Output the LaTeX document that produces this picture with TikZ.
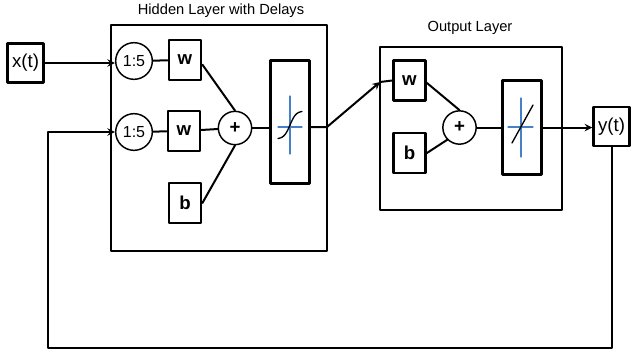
\documentclass[tikz,border=0pt]{standalone}
\usepackage{fontspec}
\setmainfont{Liberation Sans}
\definecolor{crossblue}{RGB}{70,128,200}
\tikzset{
  layer/.style={draw,line width=2.2pt,minimum width=#1},
  unitbox/.style={draw,line width=2.1pt,minimum width=24pt,minimum height=30pt,inner sep=0pt,font=\fontsize{14}{16}\selectfont\bfseries},
  iobox/.style={draw,line width=1.9pt,minimum width=27pt,minimum height=29.5pt,inner sep=0pt,font=\fontsize{14}{16}\selectfont},
  delay/.style={draw,circle,line width=1.1pt,minimum size=27.5pt,inner sep=0pt,font=\fontsize{12}{14}\selectfont},
  sumnode/.style={draw,circle,line width=1.1pt,minimum size=25pt,inner sep=0pt,font=\fontsize{14}{16}\selectfont\bfseries},
  tfbox/.style={draw,line width=2.1pt,minimum width=29pt,inner sep=0pt},
  title/.style={font=\fontsize{11}{13}\selectfont},
  wire/.style={line width=1.5pt}
}
\begin{document}
\begin{tikzpicture}[x=0.75pt,y=-0.75pt,line cap=round,line join=round,>=stealth]
\useasboundingbox (0,0) rectangle (632,358);
\node[layer=162pt,minimum height=169.5pt] (hid) at (219,138) {};
\node[title] (hidtitle) at (221,11) {Hidden Layer with Delays};
\node[layer=136.5pt,minimum height=122.25pt] (out) at (471,128.5) {};
\node[title] (outtitle) at (470,28) {Output Layer};
\node[iobox] (xt) at (25.5,63) {x(t)};
\node[iobox] (yt) at (611.5,126.5) {y(t)};
\node[delay] (d1) at (134,61) {1:5};
\node[delay] (d2) at (134,132) {1:5};
\node[unitbox] (w1) at (185,60) {w};
\node[unitbox] (w2) at (184,131) {w};
\node[unitbox] (b1) at (185,203) {b};
\node[sumnode] (s1) at (235,128) {+};
\node[tfbox,minimum height=92pt] (f1) at (290,122) {};
\node[unitbox] (w3) at (409.5,80.5) {w};
\node[unitbox] (b2) at (409.5,153) {b};
\node[sumnode] (s2) at (459.5,127.5) {+};
\node[tfbox,minimum height=71pt] (f2) at (522,127.5) {};
\coordinate (fb) at (48,348);
\coordinate (c1) at (327,127);
\coordinate (c2) at (380,82);
\draw[wire,->] (xt.east) -- (xt.east -| d1.west);
\draw[wire,->] (yt.south) |- (fb) |- (d2.west);
\draw[wire] (d1) -- (w1);
\draw[wire] (d2) -- (w2);
\draw[wire] (w1.-15) -- (s1.north);
\draw[wire] (w2) -- (s1);
\draw[wire] (b1.east) -- (s1.south);
\draw[wire] (s1.east) -- (s1.east -| f1.west);
\draw[wire,->] (c1 -| f1.east) -- (c1) -- (c2);
\draw[wire] (c2) -- (w3.west);
\draw[wire] (w3.-8) -- (s2.north);
\draw[wire] (b2.east) -- (s2.-135);
\draw[wire] (s2.east) -- (s2.east -| f2.west);
\draw[wire,->] (s2.east -| f2.east) -- (s2.east -| yt.west);
\draw[crossblue,line width=0.9pt] (290,96) -- (290,154) (278,127) -- (302,127);
\draw[line width=1pt,smooth,samples=40,domain=-1:1] plot ({290+12*\x},{125-14*tanh(2*\x)});
\draw[crossblue,line width=0.9pt] (521,98) -- (521,157) (508,127) -- (533,127);
\draw[line width=1pt] (512,143) -- (533,105);
\end{tikzpicture}
\end{document}
